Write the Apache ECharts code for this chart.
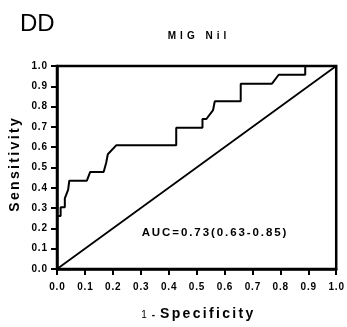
<!DOCTYPE html>
<html>
<head>
<meta charset="utf-8">
<script src="https://cdn.jsdelivr.net/npm/echarts@6/dist/echarts.min.js"></script>
<style>
  html, body { margin: 0; padding: 0; background: #fff; }
  #chart { width: 347px; height: 327px; }
</style>
</head>
<body>
<div id="chart"></div>
<script>
// ROC curve for MIG Nil: false positive rate (1 - specificity) vs sensitivity
const fpr = [0, 0, 0.013, 0.013, 0.028, 0.028, 0.040, 0.044, 0.107, 0.119, 0.167, 0.176, 0.182, 0.212, 0.427, 0.427, 0.521, 0.521, 0.535, 0.559, 0.565, 0.658, 0.658, 0.770, 0.794, 0.889, 0.889, 1.0];
const tpr = [0, 0.261, 0.261, 0.304, 0.304, 0.348, 0.391, 0.435, 0.435, 0.478, 0.478, 0.522, 0.565, 0.609, 0.609, 0.696, 0.696, 0.739, 0.739, 0.783, 0.826, 0.826, 0.913, 0.913, 0.957, 0.957, 1.0, 1.0];

// line of no discrimination
const refX = [0, 1];
const refY = [0, 1];

const panelLabel = 'DD';
const chartTitle = 'MIG Nil';
const aucText = 'AUC=0.73(0.63-0.85)';
const xTitleNum = '1';
const xTitleDash = '-';
const xTitleText = 'Specificity';
const yTitle = 'Sensitivity';

const FONT = '"Liberation Sans", Arial, sans-serif';
// letter spacing is emulated with narrow unicode spaces between glyphs
const spaced = (s, sp) => s.split('').join(sp);
const THIN = '\u2009';
const SIXTH = '\u2006';
const HAIR = '\u200A';

const chart = echarts.init(document.getElementById('chart'), null, { renderer: 'canvas' });

const axisCommon = {
  type: 'value',
  min: 0,
  max: 1,
  interval: 0.1,
  axisLine: { show: true, onZero: false, lineStyle: { color: '#000', width: 2.5 } },
  axisTick: { show: true, length: 6, lineStyle: { color: '#000', width: 2 } },
  splitLine: { show: false },
  axisLabel: {
    color: '#000',
    fontFamily: FONT,
    fontWeight: 'bold',
    fontSize: 10,
    formatter: v => spaced(v.toFixed(1), HAIR)
  }
};

chart.setOption({
  animation: false,
  backgroundColor: '#fff',
  grid: {
    left: 57, right: 9, top: 66, bottom: 58,
    show: true, borderColor: '#000', borderWidth: 2.5, backgroundColor: 'transparent'
  },
  xAxis: Object.assign({}, axisCommon, {
    axisLabel: Object.assign({}, axisCommon.axisLabel, { margin: 13 })
  }),
  yAxis: Object.assign({}, axisCommon, {
    axisLabel: Object.assign({}, axisCommon.axisLabel, { margin: 10 })
  }),
  series: [
    {
      type: 'line',
      data: refX.map((x, i) => [x, refY[i]]),
      symbol: 'none',
      lineStyle: { color: '#000', width: 1.8 }
    },
    {
      type: 'line',
      data: fpr.map((x, i) => [x, tpr[i]]),
      symbol: 'none',
      lineStyle: { color: '#000', width: 2 }
    }
  ],
  graphic: [
    {
      type: 'text', left: 20, top: 12,
      style: { text: panelLabel, font: 'normal 24px ' + FONT, fill: '#000' }
    },
    {
      type: 'text', x: 197, y: 36,
      style: { text: spaced(chartTitle, THIN + THIN), font: 'bold 10px ' + FONT, fill: '#000', align: 'center', verticalAlign: 'middle' }
    },
    {
      type: 'text', x: 214, y: 233,
      style: { text: spaced(aucText, SIXTH), font: 'bold 11.5px ' + FONT, fill: '#000', align: 'center', verticalAlign: 'middle' }
    },
    {
      type: 'text', x: 15, y: 165, rotation: Math.PI / 2,
      style: { text: spaced(yTitle, SIXTH), font: 'bold 14px ' + FONT, fill: '#000', align: 'center', verticalAlign: 'middle' }
    },
    {
      type: 'text', x: 144, y: 315,
      style: { text: xTitleNum, font: 'normal 10px ' + FONT, fill: '#000', align: 'center', verticalAlign: 'middle' }
    },
    {
      type: 'text', x: 153.5, y: 315,
      style: { text: xTitleDash, font: 'bold 10px ' + FONT, fill: '#000', align: 'center', verticalAlign: 'middle' }
    },
    {
      type: 'text', x: 160, y: 314,
      style: { text: spaced(xTitleText, SIXTH), font: 'bold 14px ' + FONT, fill: '#000', align: 'left', verticalAlign: 'middle' }
    }
  ]
});
</script>
</body>
</html>
